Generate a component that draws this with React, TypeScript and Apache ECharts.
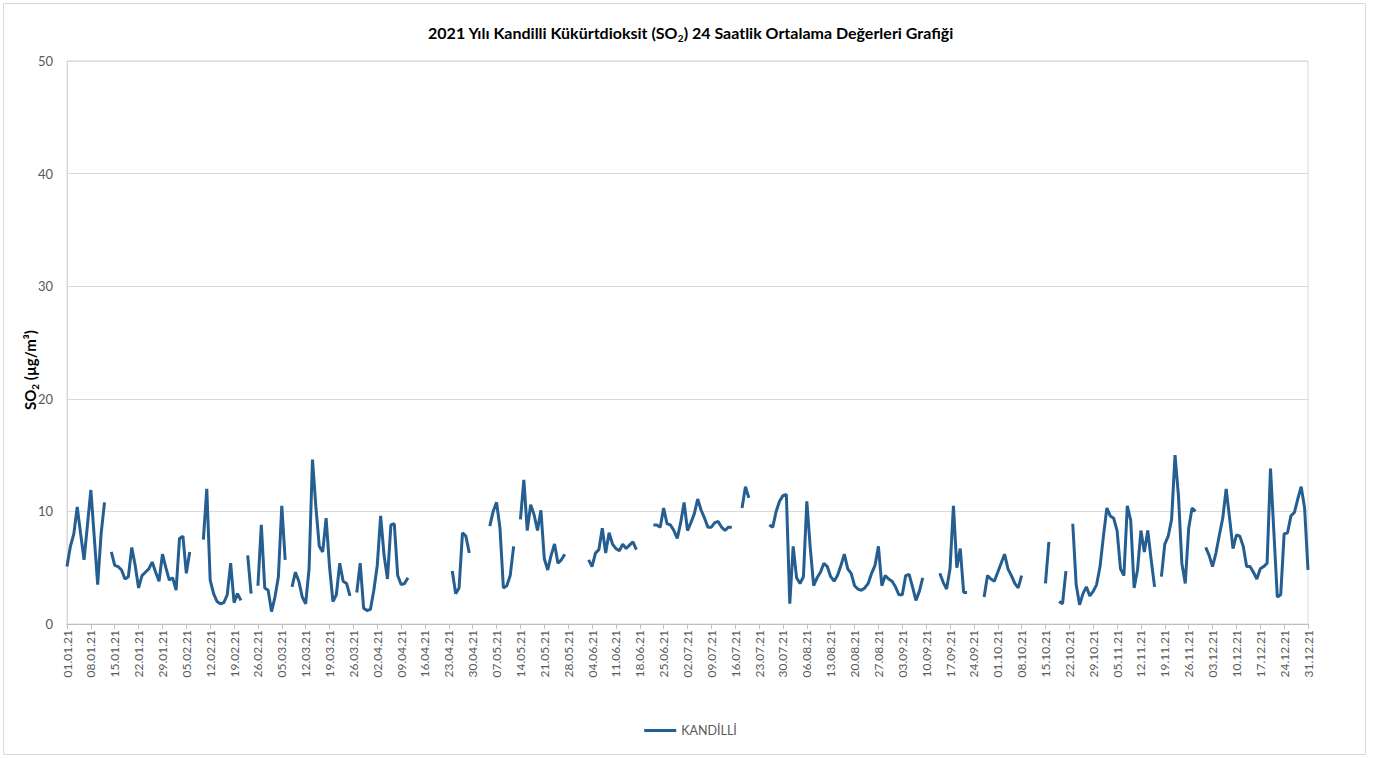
import React, { useEffect, useRef } from "react";
import * as echarts from "echarts";

// Daily 24-hour mean SO2 values (µg/m³) at Kandilli, 2021 — null = no measurement
const jan = [5.1, 6.9, 8.0, 10.4, 8.0, 5.7, 8.8, 11.9, 7.7, 3.5, 8.0, 10.8, null, 6.4, 5.2, 5.1, 4.8, 4.0, 4.2, 6.8, 5.2, 3.2, 4.3, 4.6, 4.9, 5.5, 4.6, 3.8, 6.2, 5.0, 3.9];
const feb = [4.1, 3.0, 7.6, 7.8, 4.5, 6.4, null, null, null, 7.5, 12.0, 3.9, 2.7, 2.0, 1.8, 1.9, 2.6, 5.4, 1.9, 2.7, 2.1, null, 6.1, 2.7, null, 3.4, 8.8, 3.2];
const mar = [3.0, 1.1, 2.4, 4.2, 10.5, 5.7, null, 3.3, 4.6, 3.8, 2.4, 1.8, 4.9, 14.6, 10.4, 6.9, 6.4, 9.4, 5.1, 2.0, 2.6, 5.4, 3.8, 3.6, 2.5, null, 2.8, 5.4, 1.4, 1.2, 1.3];
const apr = [3.0, 5.2, 9.6, 6.1, 4.0, 8.8, 8.9, 4.3, 3.5, 3.6, 4.1, null, null, null, null, null, null, null, null, null, null, null, null, 4.7, 2.7, 3.2, 8.1, 7.8, 6.3, null];
const may = [null, null, null, null, 8.7, 10.0, 10.8, 8.5, 3.2, 3.4, 4.3, 6.9, null, 9.3, 12.8, 8.3, 10.6, 9.7, 8.3, 10.1, 5.8, 4.8, 6.1, 7.1, 5.4, 5.7, 6.2, null, null, null, null];
const jun = [null, null, 5.7, 5.1, 6.3, 6.6, 8.5, 6.3, 8.1, 7.1, 6.7, 6.5, 7.1, 6.7, 7.0, 7.3, 6.6, null, null, null, null, 8.8, 8.8, 8.6, 10.3, 8.9, 8.8, 8.3, 7.6, 9.0];
const jul = [10.8, 8.3, 9.0, 9.8, 11.1, 10.1, 9.4, 8.6, 8.6, 9.0, 9.1, 8.6, 8.3, 8.6, 8.6, null, null, 10.3, 12.2, 11.2, null, null, null, null, null, 8.8, 8.6, 10.0, 10.9, 11.4, 11.5];
const aug = [1.8, 6.9, 4.1, 3.6, 4.2, 10.9, 6.8, 3.4, 4.1, 4.6, 5.4, 5.1, 4.2, 3.8, 4.3, 5.2, 6.2, 4.9, 4.5, 3.4, 3.1, 3.0, 3.2, 3.6, 4.5, 5.2, 6.9, 3.4, 4.3, 4.0, 3.8];
const sep = [3.3, 2.6, 2.6, 4.3, 4.4, 3.3, 2.1, 2.9, 4.1, null, null, null, null, 4.5, 3.7, 3.1, 4.9, 10.5, 5.0, 6.7, 2.8, 2.8, null, null, null, null, 2.4, 4.3, 4.0, 3.8];
const oct = [4.6, 5.4, 6.2, 4.9, 4.3, 3.6, 3.2, 4.3, null, null, null, null, null, null, 3.6, 7.3, null, null, 2.0, 1.8, 4.7, null, 8.9, 3.5, 1.7, 2.7, 3.3, 2.5, 2.9, 3.5, 5.1];
const nov = [7.8, 10.3, 9.6, 9.4, 8.3, 4.9, 4.3, 10.5, 9.2, 3.2, 4.8, 8.3, 6.4, 8.3, 5.7, 3.3, null, 4.2, 7.1, 7.8, 9.3, 15.0, 11.4, 5.4, 3.6, 8.5, 10.3, 10.0, null, null];
const dec = [6.8, 6.1, 5.1, 6.3, 7.9, 9.4, 12.0, 9.4, 6.7, 7.9, 7.8, 6.9, 5.1, 5.1, 4.6, 4.0, 4.9, 5.1, 5.4, 13.8, 8.1, 2.4, 2.6, 8.0, 8.1, 9.6, 9.9, 11.1, 12.2, 10.3, 4.8];

const months = [jan, feb, mar, apr, may, jun, jul, aug, sep, oct, nov, dec];
const kandilli = months.flat();

// Category labels "dd.mm.21", one per day of the year
const pad = (n: number) => String(n).padStart(2, "0");
const dayLabels: string[] = months.flatMap((m, mi) => m.map((_, di) => `${pad(di + 1)}.${pad(mi + 1)}.21`));

const yMin = 0;
const yMax = 50;
const yStep = 10;

const FONT = "Lato, 'Liberation Sans', sans-serif";
const LINE_COLOR = "#255e91";

export default function App() {
  const ref = useRef<HTMLDivElement>(null);

  useEffect(() => {
    if (!ref.current) return;
    const chart = echarts.init(ref.current, undefined, { renderer: "svg" });
    chart.setOption({
      animation: false,
      backgroundColor: "#ffffff",
      textStyle: { fontFamily: FONT },
      title: {
        left: "center",
        top: 16,
        text: "{a|2021 Yılı Kandilli Kükürtdioksit (SO}{s|2}{a|) 24 Saatlik Ortalama Değerleri Grafiği}",
        textStyle: {
          rich: {
            a: { fontFamily: FONT, fontSize: 16, fontWeight: "bold", color: "#000000", lineHeight: 22, verticalAlign: "middle" },
            s: { fontFamily: FONT, fontSize: 10, fontWeight: "bold", color: "#000000", lineHeight: 13, verticalAlign: "bottom" },
          },
        },
      },
      graphic: [
        {
          type: "rect",
          shape: { x: 3.5, y: 3.5, width: 1362, height: 751 },
          style: { fill: "none", stroke: "#d9d9d9", lineWidth: 1 },
          silent: true,
        },
        {
          // y-axis title, rotated to read bottom-to-top
          type: "text",
          x: 30,
          y: 370,
          rotation: Math.PI / 2,
          silent: true,
          style: {
            text: "{a|SO}{s|2}{a| (µg/m³)}",
            align: "center",
            verticalAlign: "middle",
            rich: {
              a: { fontFamily: FONT, fontSize: 15, fontWeight: "bold", fill: "#000000", lineHeight: 20, verticalAlign: "middle" },
              s: { fontFamily: FONT, fontSize: 10, fontWeight: "bold", fill: "#000000", lineHeight: 12, verticalAlign: "bottom" },
            },
          },
        },
      ],
      legend: {
        bottom: 16,
        left: "center",
        icon: "rect",
        itemWidth: 32,
        itemHeight: 3,
        itemGap: 2,
        textStyle: { fontFamily: FONT, fontSize: 12.5, color: "#595959" },
        data: ["KANDİLLİ"],
      },
      grid: {
        left: 67,
        right: 73,
        top: 61,
        bottom: 134,
        show: true,
        borderColor: "#d9d9d9",
        borderWidth: 1,
      },
      xAxis: {
        type: "category",
        boundaryGap: false,
        data: dayLabels,
        axisLine: { lineStyle: { color: "#bfbfbf", width: 1 } },
        axisTick: { show: true, interval: 6, length: 5, lineStyle: { color: "#bfbfbf" } },
        axisLabel: { interval: 6, rotate: 90, fontSize: 12, color: "#595959", margin: 6, fontFamily: FONT },
        splitLine: { show: false },
      },
      yAxis: {
        type: "value",
        min: yMin,
        max: yMax,
        interval: yStep,
        axisLine: { show: true, lineStyle: { color: "#d9d9d9" } },
        axisTick: { show: false },
        axisLabel: { fontSize: 13, color: "#595959", margin: 14, fontFamily: FONT },
        splitLine: { show: true, lineStyle: { color: "#d9d9d9", width: 1 } },
      },
      series: [
        {
          name: "KANDİLLİ",
          type: "line",
          data: kandilli,
          symbol: "none",
          connectNulls: false,
          lineStyle: { color: LINE_COLOR, width: 3 },
          itemStyle: { color: LINE_COLOR },
        },
      ],
    });
    return () => chart.dispose();
  }, []);

  return (
    <div
      ref={ref}
      style={{ position: "absolute", left: 0, top: 0, width: 1381, height: 758 }}
    />
  );
}
